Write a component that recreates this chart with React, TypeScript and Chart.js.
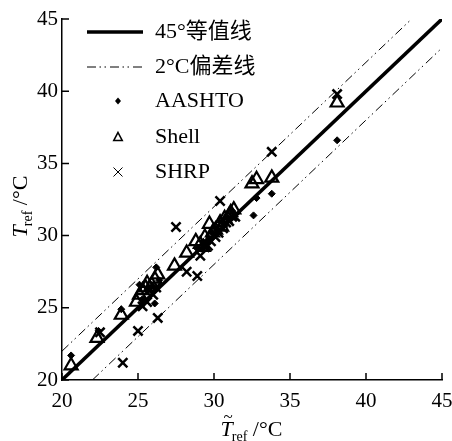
import React, { useEffect, useRef } from "react";
import { Chart, registerables } from "chart.js";
Chart.register(...registerables);

// ---- data ----
const tickValues = [20, 25, 30, 35, 40, 45];

const aashtoX = [20.6, 22.4, 23.9, 25.1, 25.3, 25.6, 25.9, 26.1, 26.2, 26.4, 28.9, 29.3, 29.6, 29.9, 30.2, 30.6, 30.9, 31.2, 32.6, 32.8, 33.8, 38.1];
const aashtoY = [21.7, 23.4, 24.9, 26.6, 25.6, 26.2, 26.5, 25.3, 27.8, 26.9, 29.1, 29.5, 29.7, 30.2, 30.4, 30.9, 31.2, 31.7, 31.4, 32.6, 32.9, 36.6];

const shellX = [20.6, 22.3, 23.9, 24.9, 25.1, 25.3, 25.5, 25.6, 25.9, 26.1, 26.3, 27.4, 28.2, 28.8, 29.1, 29.3, 29.4, 29.7, 29.9, 30.1, 30.4, 30.5, 30.7, 31.0, 31.1, 31.3, 32.5, 32.8, 33.8, 38.1];
const shellY = [21.0, 22.9, 24.5, 25.4, 25.9, 26.2, 26.4, 26.7, 26.6, 27.0, 27.3, 27.9, 28.8, 29.6, 29.4, 29.2, 29.9, 30.8, 30.2, 30.4, 30.9, 30.6, 31.2, 31.4, 31.6, 31.8, 33.6, 33.9, 34.0, 39.2];

const shrpX = [22.5, 24.0, 25.0, 25.3, 25.6, 26.0, 26.3, 26.2, 27.5, 28.2, 28.9, 29.1, 29.4, 29.6, 29.8, 30.1, 30.3, 30.4, 30.6, 30.8, 31.0, 31.2, 31.4, 33.8, 38.1];
const shrpY = [23.3, 21.2, 23.4, 25.1, 25.4, 25.9, 24.3, 26.4, 30.6, 27.5, 27.2, 28.6, 29.2, 29.3, 29.6, 29.9, 30.2, 32.4, 30.5, 30.9, 31.0, 31.3, 31.3, 35.8, 39.8];

const equalLineX = [20, 45];
const equalLineY = [20, 45];
const upperDevX = [20, 43];
const upperDevY = [22, 45];
const lowerDevX = [22, 45];
const lowerDevY = [20, 43];

const legendLabels = ["45°等值线", "2°C偏差线", "AASHTO", "Shell", "SHRP"];

const zip = (xs: number[], ys: number[]) => xs.map((x, i) => ({ x, y: ys[i] }));

const SERIF = "\"Liberation Serif\", \"DejaVu Serif\", \"Noto Sans CJK SC\", serif";
const DASH = [9, 3.5, 1.5, 3.5, 1.5, 4];

const decorPlugin = {
  id: "decor",
  afterDraw(chart: any) {
    const ctx = chart.ctx;
    const xs = chart.scales.x;
    const ys = chart.scales.y;
    const ca = chart.chartArea;
    ctx.save();
    // inward ticks
    ctx.strokeStyle = "#000";
    ctx.lineWidth = 1.5;
    ctx.beginPath();
    tickValues.forEach((v) => {
      const px = xs.getPixelForValue(v);
      ctx.moveTo(px, ca.bottom);
      ctx.lineTo(px, ca.bottom - 7);
      const py = ys.getPixelForValue(v);
      ctx.moveTo(ca.left, py);
      ctx.lineTo(ca.left + 7, py);
    });
    ctx.stroke();

    // legend
    const lx0 = 87, lx1 = 143, tx = 155;
    const rows = [32, 67, 101, 137, 172];
    ctx.fillStyle = "#000";
    ctx.font = `22px ${SERIF}`;
    ctx.textBaseline = "middle";
    ctx.textAlign = "left";
    legendLabels.forEach((t, i) => ctx.fillText(t, tx, rows[i]));
    // solid
    ctx.beginPath();
    ctx.lineWidth = 3.5;
    ctx.moveTo(lx0, rows[0]);
    ctx.lineTo(lx1, rows[0]);
    ctx.stroke();
    // dash-dot
    ctx.beginPath();
    ctx.lineWidth = 1;
    ctx.setLineDash(DASH);
    ctx.moveTo(lx0, rows[1]);
    ctx.lineTo(lx1, rows[1]);
    ctx.stroke();
    ctx.setLineDash([]);
    const mx = 118;
    // diamond
    ctx.beginPath();
    ctx.moveTo(mx, rows[2] - 3.5);
    ctx.lineTo(mx + 3, rows[2]);
    ctx.lineTo(mx, rows[2] + 3.5);
    ctx.lineTo(mx - 3, rows[2]);
    ctx.closePath();
    ctx.fill();
    // triangle
    ctx.beginPath();
    ctx.lineWidth = 1.6;
    ctx.moveTo(mx, rows[3] - 4.5);
    ctx.lineTo(mx + 4.2, rows[3] + 3.5);
    ctx.lineTo(mx - 4.2, rows[3] + 3.5);
    ctx.closePath();
    ctx.stroke();
    // cross
    ctx.beginPath();
    ctx.lineWidth = 1;
    ctx.moveTo(mx - 4.5, rows[4] - 4.5);
    ctx.lineTo(mx + 4.5, rows[4] + 4.5);
    ctx.moveTo(mx + 4.5, rows[4] - 4.5);
    ctx.lineTo(mx - 4.5, rows[4] + 4.5);
    ctx.stroke();

    // x axis title: T~ref /°C
    const cx = (ca.left + ca.right) / 2;
    const by = 436;
    ctx.textBaseline = "alphabetic";
    const fT = `italic 22px ${SERIF}`;
    const fS = `14px ${SERIF}`;
    const fN = `22px ${SERIF}`;
    ctx.font = fT;
    const wT = ctx.measureText("T").width;
    ctx.font = fS;
    const wS = ctx.measureText("ref").width;
    ctx.font = fN;
    const wN = ctx.measureText(" /°C").width;
    const x0 = cx - (wT + wS + wN) / 2;
    ctx.font = fT;
    ctx.fillText("T", x0, by);
    ctx.font = `17px ${SERIF}`;
    ctx.textAlign = "center";
    ctx.fillText("~", x0 + wT / 2 + 1.5, by - 14);
    ctx.textAlign = "left";
    ctx.font = fS;
    ctx.fillText("ref", x0 + wT - 1, by + 5);
    ctx.font = fN;
    ctx.fillText(" /°C", x0 + wT + wS - 1, by);

    // y axis title
    ctx.save();
    ctx.translate(27, 206);
    ctx.rotate(-Math.PI / 2);
    const y0 = -(wT + wS + wN) / 2;
    ctx.font = fT;
    ctx.fillText("T", y0, 0);
    ctx.font = fS;
    ctx.fillText("ref", y0 + wT - 1, 5);
    ctx.font = fN;
    ctx.fillText(" /°C", y0 + wT + wS - 1, 0);
    ctx.restore();

    ctx.restore();
  },
};

export default function App() {
  const ref = useRef<HTMLCanvasElement>(null);
  useEffect(() => {
    let chart: any = null;
    let cancelled = false;
    const build = () => {
      if (cancelled || !ref.current) return;
      chart = new Chart(ref.current, {
        type: "scatter",
        data: {
          datasets: [
            {
              label: "AASHTO",
              data: zip(aashtoX, aashtoY),
              pointStyle: "rectRot",
              pointRadius: 3.5,
              backgroundColor: "#000",
              borderColor: "#000",
              borderWidth: 1,
            },
            {
              label: "Shell",
              data: zip(shellX, shellY),
              pointStyle: "triangle",
              pointRadius: 7.5,
              backgroundColor: "rgba(255,255,255,0)",
              borderColor: "#000",
              borderWidth: 2.2,
            },
            {
              label: "SHRP",
              data: zip(shrpX, shrpY),
              pointStyle: "crossRot",
              pointRadius: 6.5,
              borderColor: "#000",
              borderWidth: 2.5,
            },
            {
              label: "45°等值线",
              data: zip(equalLineX, equalLineY),
              showLine: true,
              pointRadius: 0,
              borderColor: "#000",
              borderWidth: 3.5,
            },
            {
              label: "2°C偏差线上",
              data: zip(upperDevX, upperDevY),
              showLine: true,
              pointRadius: 0,
              borderColor: "#000",
              borderWidth: 1,
              borderDash: DASH,
            },
            {
              label: "2°C偏差线下",
              data: zip(lowerDevX, lowerDevY),
              showLine: true,
              pointRadius: 0,
              borderColor: "#000",
              borderWidth: 1,
              borderDash: DASH,
            },
          ],
        },
        options: {
          animation: false,
          responsive: false,
          maintainAspectRatio: false,
          layout: { padding: { left: 0, top: 19, right: 10, bottom: 0 } },
          plugins: { legend: { display: false }, tooltip: { enabled: false } },
          scales: {
            x: {
              type: "linear",
              min: 20,
              max: 45,
              grid: { display: false, drawTicks: false },
              border: { display: true, color: "#000", width: 1.5 },
              ticks: {
                stepSize: 5,
                padding: 9,
                color: "#000",
                maxRotation: 0,
                font: { family: SERIF, size: 21 },
              },
              afterFit: (s: any) => {
                s.height = 61;
                s.paddingLeft = 0;
                s.paddingRight = 0;
              },
            },
            y: {
              type: "linear",
              min: 20,
              max: 45,
              grid: { display: false, drawTicks: false },
              border: { display: true, color: "#000", width: 1.5 },
              ticks: {
                stepSize: 5,
                padding: 4,
                color: "#000",
                font: { family: SERIF, size: 21 },
              },
              afterFit: (s: any) => {
                s.width = 62;
                s.paddingTop = 0;
                s.paddingBottom = 0;
              },
            },
          },
        },
        plugins: [decorPlugin],
      });
    };
    const fonts: any = (document as any).fonts;
    if (fonts && fonts.load) {
      Promise.all([
        fonts.load('21px "Liberation Serif"'),
        fonts.load('italic 21px "Liberation Serif"'),
        fonts.load('21px "Noto Sans CJK SC"', "等值线偏差"),
      ])
        .catch(() => {})
        .then(build);
    } else {
      build();
    }
    return () => {
      cancelled = true;
      if (chart) chart.destroy();
    };
  }, []);
  return (
    <div style={{ position: "absolute", left: 0, top: 0, width: 452, height: 441, background: "#fff" }}>
      <canvas ref={ref} width={452} height={441} style={{ width: 452, height: 441 }} />
    </div>
  );
}
